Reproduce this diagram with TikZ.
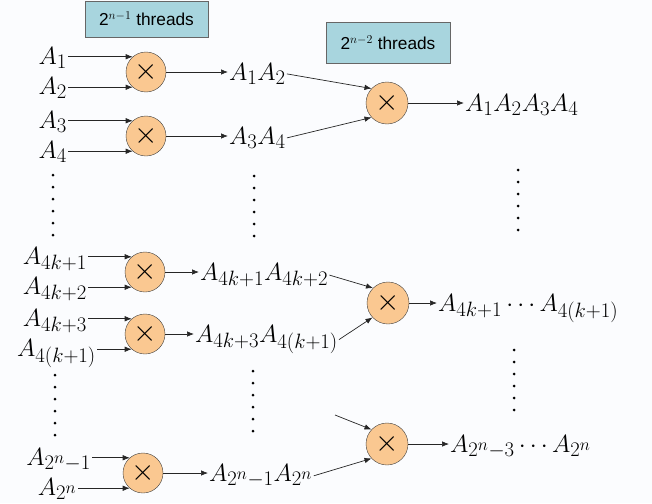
\documentclass[tikz,border=0pt]{standalone}
\usepackage{fontspec}
\newfontfamily\thrfont{Liberation Sans}
\usepackage{tikz}
\usetikzlibrary{arrows.meta,calc}

\definecolor{multfill}{RGB}{250,200,145}
\definecolor{thrfill}{RGB}{168,213,222}
\definecolor{bgcol}{RGB}{251,252,254}
\newcommand{\mulsign}{\scalebox{1.45}{$\times$}}

\tikzset{
    mult/.style={circle, draw=black!75, fill=multfill, minimum size=40pt, inner sep=0pt, font=\huge},
    thrbox/.style={draw=black!60, fill=thrfill, inner sep=0pt, font=\thrfont\LARGE},
    lab/.style={inner sep=1pt, font=\Huge},
    arr/.style={-{Latex[length=7pt,width=5.5pt]}, line width=0.7pt, black!85},
    vdot/.style={fill=black, draw=none, circle, inner sep=0pt, minimum size=3pt}
}

\begin{document}
\begin{tikzpicture}[x=1pt, y=-1pt]
    \fill[bgcol] (0,0) rectangle (652,503);
    \useasboundingbox (0,0) rectangle (652,503);
    %
    % thread boxes
    \node[thrbox, minimum width=123pt, minimum height=36pt] (thr1) at (146.5,19) {2$^{n-1}$ threads};
    \node[thrbox, minimum width=124pt, minimum height=41pt] (thr2) at (388,42.5) {2$^{n-2}$ threads};
    %
    % first stage
    \node[mult] (m1) at (146,72) {\mulsign};
    \node[mult] (m2) at (146,136) {\mulsign};
    \node[mult] (m3) at (145,272) {\mulsign};
    \node[mult] (m4) at (145,334) {\mulsign};
    \node[mult] (m5) at (143,473) {\mulsign};
    %
    % second stage
    \node[mult, minimum size=42pt] (p1) at (387,103) {\mulsign};
    \node[mult, minimum size=42pt] (p2) at (388,303) {\mulsign};
    \node[mult, minimum size=42pt] (p3) at (387,444) {\mulsign};
    %
    % inputs
    \node[lab, anchor=base east] (a1) at (68,64) {$A_1$};
    \node[lab, anchor=base east] (a2) at (68,94) {$A_2$};
    \node[lab, anchor=base east] (a3) at (68,128) {$A_3$};
    \node[lab, anchor=base east] (a4) at (68,158) {$A_4$};
    \node[lab, anchor=base east] (b1) at (88,264) {$A_{4k+1}$};
    \node[lab, anchor=base east] (b2) at (88,294) {$A_{4k+2}$};
    \node[lab, anchor=base east] (b3) at (88,326) {$A_{4k+3}$};
    \node[lab, anchor=base east] (b4) at (97,356) {$A_{4(k+1)}$};
    \node[lab, anchor=base east] (c1) at (92,465) {$A_{2^n-1}$};
    \node[lab, anchor=base east] (c2) at (78,495) {$A_{2^n}$};
    %
    % partial products
    \node[lab, anchor=base west] (o1) at (228,80) {$A_1A_2$};
    \node[lab, anchor=base west] (o2) at (228,144) {$A_3A_4$};
    \node[lab, anchor=base west] (o3) at (199,280) {$A_{4k+1}A_{4k+2}$};
    \node[lab, anchor=base west] (o4) at (194,342) {$A_{4k+3}A_{4(k+1)}$};
    \node[lab, anchor=base west] (o5) at (208,481) {$A_{2^n-1}A_{2^n}$};
    %
    % results
    \node[lab, anchor=base west] (r1) at (464,111) {$A_1A_2A_3A_4$};
    \node[lab, anchor=base west] (r2) at (437,311) {$A_{4k+1}\cdots A_{4(k+1)}$};
    \node[lab, anchor=base west] (r3) at (449,452) {$A_{2^n-3}\cdots A_{2^n}$};
    \coordinate (f3) at (335,415);
    %
    % arrows into the first stage
    \foreach \u/\l/\m in {a1/a2/m1, a3/a4/m2, b1/b2/m3, b3/b4/m4, c1/c2/m5} {
        \draw[arr] (\u.east |- \m.131) -- (\m.131);
        \draw[arr] (\l.east |- \m.229) -- (\m.229);
    }
    \foreach \m/\o in {m1/o1, m2/o2, m3/o3, m4/o4, m5/o5}
        \draw[arr] (\m.east) -- (\m.east -| \o.west);
    %
    % arrows into the second stage
    \draw[arr] (o1.east) -- (p1.137);
    \draw[arr] (o2.east) -- (p1.223);
    \draw[arr] (o3.east) -- (p2.135);
    \draw[arr] (o4.east) -- (p2.223);
    \draw[arr] (f3) -- (p3.137);
    \draw[arr] (o5.east) -- (p3.223);
    \foreach \p/\r in {p1/r1, p2/r2, p3/r3}
        \draw[arr] (\p.east) -- (\p.east -| \r.west);
    %
    % vertical dots
    \foreach \x/\y in {53/175, 254/176, 518/170, 55/375, 253/371, 514/350}
        \foreach \i in {0,...,5}
            \node[vdot] at (\x,\y+12*\i) {};
\end{tikzpicture}
\end{document}
